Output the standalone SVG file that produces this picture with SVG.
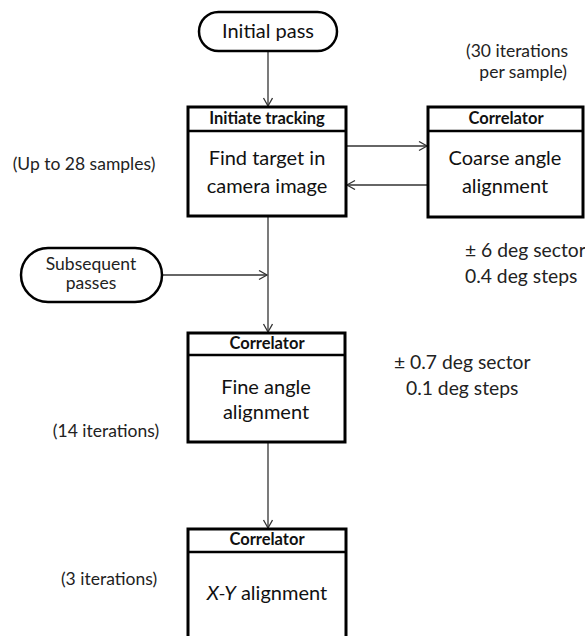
<svg xmlns="http://www.w3.org/2000/svg" width="585" height="636" viewBox="0 0 585 636">
<style>
  .box { fill: #fff; stroke: #000; stroke-width: 3; }
  .hdr { fill: none; stroke: #000; stroke-width: 2.5; }
  .pill { fill: #fff; stroke: #000; stroke-width: 2.5; }
  .conn { fill: none; stroke: #333; stroke-width: 1.3; marker-end: url(#arr); }
  text { font-family: Lato, "Open Sans", "Liberation Sans", sans-serif; fill: #111; }
  .h { font-size: 16.5px; font-weight: bold; text-anchor: middle; }
  .b { font-size: 20px; text-anchor: middle; }
  .a { font-size: 17.5px; fill: #222; }
  .d { font-size: 19.3px; fill: #222; }
  .m { text-anchor: middle; }
</style>
<defs>
  <marker id="arr" markerWidth="12" markerHeight="12" refX="9" refY="5" orient="auto" markerUnits="userSpaceOnUse">
    <path d="M1,0.5 L9,5 L1,9.5" fill="none" stroke="#333" stroke-width="1.3"/>
  </marker>
</defs>

<g id="connectors">
  <path class="conn" d="M268,52 V106"/>
  <path class="conn" d="M346,146 H427"/>
  <path class="conn" d="M428,185 H347"/>
  <path class="conn" d="M268,216 V332"/>
  <path class="conn" d="M162,275 H267"/>
  <path class="conn" d="M268,442 V528"/>
</g>

<g id="initial-pass">
  <rect class="pill" x="199" y="12" width="138" height="39" rx="19.5" ry="19.5"/>
  <text class="b" x="268" y="38">Initial pass</text>
</g>

<g id="initiate-tracking">
  <rect class="box" x="188" y="107" width="158" height="109"/>
  <line class="hdr" x1="188" y1="131" x2="346" y2="131"/>
  <text class="h" x="267" y="124">Initiate tracking</text>
  <text class="b" x="267" y="165">Find target in</text>
  <text class="b" x="267" y="193">camera image</text>
</g>

<g id="coarse-correlator">
  <rect class="box" x="428" y="107" width="155" height="110"/>
  <line class="hdr" x1="428" y1="131" x2="583" y2="131"/>
  <text class="h" x="506" y="124">Correlator</text>
  <text class="b" x="505" y="165">Coarse angle</text>
  <text class="b" x="505" y="193">alignment</text>
</g>

<g id="subsequent-passes">
  <rect class="pill" x="21" y="248" width="141" height="54" rx="27" ry="27"/>
  <text class="a m" x="91" y="270">Subsequent</text>
  <text class="a m" x="91" y="289">passes</text>
</g>

<g id="fine-correlator">
  <rect class="box" x="188" y="333" width="157" height="109"/>
  <line class="hdr" x1="188" y1="355" x2="345" y2="355"/>
  <text class="h" x="267" y="349">Correlator</text>
  <text class="b" x="266" y="394">Fine angle</text>
  <text class="b" x="266" y="419">alignment</text>
</g>

<g id="xy-correlator">
  <rect class="box" x="188" y="529" width="158" height="130"/>
  <line class="hdr" x1="188" y1="552" x2="346" y2="552"/>
  <text class="h" x="267" y="545">Correlator</text>
  <text class="b" x="267" y="600"><tspan font-style="italic">X-Y</tspan> alignment</text>
</g>

<g id="annotations">
  <text class="a m" x="84" y="170">(Up to 28 samples)</text>
  <text class="a m" x="106" y="437">(14 iterations)</text>
  <text class="a m" x="109" y="585">(3 iterations)</text>
  <text class="a" x="568" y="57" text-anchor="end">(30 iterations</text>
  <text class="a" x="567" y="78" text-anchor="end">per sample)</text>
  <text class="d" x="465" y="257">± 6 deg sector</text>
  <text class="d" x="465" y="283">0.4 deg steps</text>
  <text class="d" x="394" y="369">± 0.7 deg sector</text>
  <text class="d" x="406" y="395">0.1 deg steps</text>
</g>
</svg>
